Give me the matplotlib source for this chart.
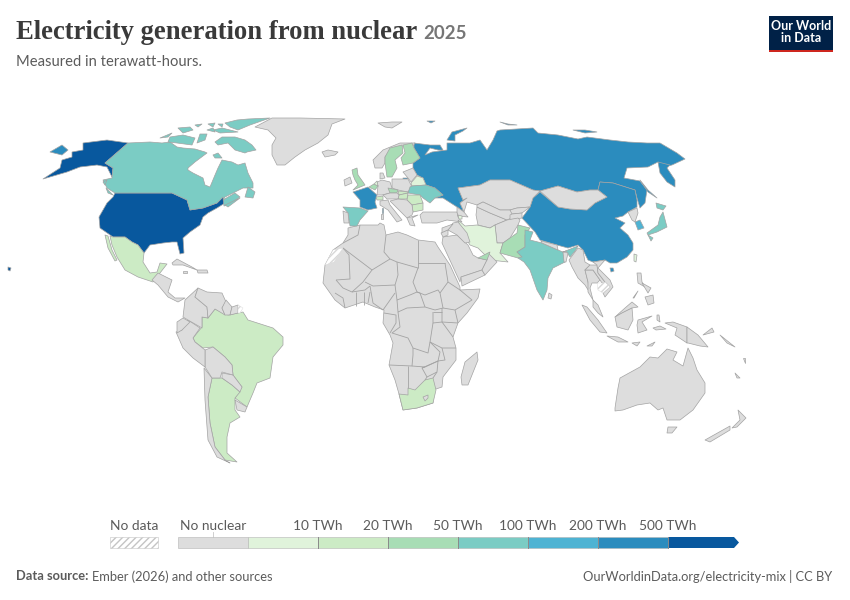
import matplotlib
matplotlib.use("Agg")
import matplotlib.pyplot as plt
from matplotlib.collections import PolyCollection, LineCollection
from matplotlib.colors import ListedColormap, BoundaryNorm
from matplotlib.patches import Polygon, Rectangle

## Legend bins
BIN_EDGES = [-1, 0.001, 10, 20, 50, 100, 200, 500, 5000]
BIN_COLORS = ["#dddddd", "#e0f3db", "#ccebc5", "#a8ddb5", "#7bccc4", "#4eb3d3", "#2b8cbe", "#08589e"]
BIN_LABELS = ["10 TWh", "20 TWh", "50 TWh", "100 TWh", "200 TWh", "500 TWh"]

## TWh by country, 0 = no nuclear
COUNTRY_TWH = {
    "Russia": 215, "China": 450, "Mongolia": 0, "USA": 800, "Canada": 85, "Greenland": 0,
    "Mexico": 11, "Brazil": 15, "Argentina": 12, "Chile": 0, "Uruguay": 0, "Paraguay": 0,
    "Bolivia": 0, "Peru": 0, "Ecuador": 0, "Colombia": 0, "Venezuela": 0, "Guyana": 0,
    "Suriname": 0, "CentralAmerica": 0, "Cuba": 0, "Hispaniola": 0, "Jamaica": 0,
    "Africa": 0, "SouthAfrica": 15, "Lesotho": 0, "Madagascar": 0,
    "Iceland": 0, "Svalbard": 0, "Norway": 0, "Sweden": 48, "Finland": 32, "Baltics": 0,
    "Belarus": 6, "Poland": 0, "Ukraine": 80, "Germany": 0, "Denmark": 0, "France": 370,
    "UK": 35, "Ireland": 0, "Spain": 55, "Portugal": 0, "Belgium": 25, "Netherlands": 3,
    "Switzerland": 18, "Italy": 0, "Sardinia": 0, "Czechia": 29, "Slovakia": 17, "Hungary": 15,
    "Austria": 0, "Romania": 11, "Bulgaria": 15, "Balkans": 0, "Greece": 0, "Turkey": 0,
    "Caucasus": 0, "Armenia": 3, "Kazakhstan": 0, "Turkmenistan": 0, "Uzbekistan": 0,
    "Kyrgyzstan": 0, "Tajikistan": 0, "Afghanistan": 0, "Iran": 6, "Pakistan": 22, "India": 55,
    "Nepal": 0, "Bangladesh": 0, "SriLanka": 0, "Myanmar": 0, "Thailand": 0, "Laos": 0,
    "Vietnam": 0, "Malaysia": 0, "Indonesia": 0, "Philippines": 0, "PNG": 0, "Australia": 0,
    "NewZealand": 0, "Pacific": 0, "NorthKorea": 0, "SouthKorea": 190, "Japan": 85,
    "Taiwan": 8, "Saudi": 0, "Yemen": 0, "Oman": 0, "UAE": 40, "Iraq": 0, "Syria": 0, "Jordan": 0,
}

## Country outlines
OUTLINES = {
    "Russia": [
        [(414,143),(430,145),(440,145),(443,150),(438,150),(430,148),(425,155),(432,152),(447,150),(447,143),(460,143),(470,143),(480,140),(487,150),(493,140),(497,131),(500,130),(533,128),(538,133),(558,135),(578,139),(587,137),(610,140),(628,142),(647,143),(660,143),(677,153),(685,159),(672,165),(663,167),(658,162),(648,167),(627,168),(624,178),(640,181),(647,190),(645,203),(640,208),(637,198),(635,190),(613,183),(600,182),(598,190),(590,190),(577,192),(558,186),(540,191),(533,190),(510,180),(490,180),(480,185),(458,188),(463,200),(467,198),(460,203),(464,212),(457,207),(443,198),(435,198),(443,195),(435,188),(426,185),(423,178),(417,175),(413,168),(413,163),(420,158),(414,148)],
        [(670,165),(667,168),(675,180),(675,187),(667,182),(660,173),(658,162)],
        [(50,152),(62,145),(68,150),(62,155)],
        [(447,140),(452,132),(467,128),(463,131),(455,135),(455,141)],
        [(573,130),(585,130),(597,132),(585,133)],
        [(500,122),(508,124),(517,125),(508,125)],
        [(427,121),(435,121),(431,123)],
        [(640,180),(648,190),(657,198),(648,192)],
        [(403,178),(408,178),(407,180),(403,180)],
    ],
    "China": [
        [(600,182),(613,183),(635,190),(637,200),(637,207),(628,212),(623,216),(615,218),(625,223),(620,228),(628,235),(633,243),(633,250),(627,257),(617,263),(610,263),(605,260),(593,262),(588,260),(583,250),(578,245),(568,248),(557,245),(540,240),(535,232),(522,218),(530,207),(533,198),(540,192),(558,207),(570,209),(587,210),(595,203),(607,197),(598,190)],
        [(610,268),(613,268),(614,271),(611,272)],
    ],
    "Mongolia": [[(540,191),(558,186),(577,192),(590,190),(598,190),(607,197),(595,203),(587,210),(570,209),(558,207)]],
    "USA": [
        [(115,193),(172,193),(187,200),(190,210),(203,208),(217,203),(223,197),(225,203),(217,208),(208,213),(203,217),(200,225),(190,232),(183,238),(184,253),(180,254),(177,242),(172,242),(163,243),(150,245),(144,253),(138,245),(132,242),(125,237),(113,237),(100,228),(99,217),(107,203),(113,197)],
        [(107,140),(128,143),(105,163),(113,168),(112,177),(107,167),(97,165),(80,167),(67,172),(43,179),(60,168),(62,160),(72,157),(72,152),(83,150),(83,143)],
        [(8,267),(11,268),(10,271),(8,270)],
    ],
    "Canada": [
        [(128,143),(150,142),(162,143),(170,142),(177,147),(183,148),(195,149),(205,152),(207,153),(195,162),(188,168),(188,170),(193,173),(203,178),(205,185),(210,187),(215,175),(218,168),(222,160),(232,162),(238,165),(245,163),(248,173),(253,183),(253,188),(243,188),(233,193),(225,197),(223,200),(235,193),(240,197),(228,205),(224,206),(223,197),(217,203),(203,208),(190,210),(187,200),(172,193),(115,193),(107,188),(103,180),(112,178),(113,168),(105,163)],
        [(215,142),(222,137),(235,137),(245,140),(252,145),(256,150),(247,152),(245,153),(235,150),(228,143),(218,145)],
        [(170,137),(183,135),(195,138),(192,145),(177,143),(168,142)],
        [(160,138),(172,133),(168,137)],
        [(225,123),(237,120),(248,119),(270,118),(250,125),(238,130),(230,127)],
        [(213,130),(222,128),(238,132),(220,133)],
        [(207,130),(213,128),(215,132)],
        [(208,124),(215,123),(213,127)],
        [(218,124),(223,124),(222,127)],
        [(178,128),(190,127),(193,130),(183,133)],
        [(195,125),(202,124),(198,127)],
        [(197,143),(200,134),(207,134),(205,140)],
        [(213,155),(218,153),(222,158),(215,158)],
        [(248,187),(255,192),(253,198),(245,197)],
        [(225,205),(240,198),(228,207)],
        [(106,188),(113,195),(108,193)],
        [(103,182),(107,180),(105,185)],
    ],
    "Greenland": [[(255,127),(272,118),(300,118),(345,119),(332,124),(328,135),(318,143),(305,150),(295,157),(285,165),(277,165),(272,155),(272,145),(276,138),(268,130)]],
    "Mexico": [
        [(110,236),(113,237),(125,237),(132,242),(138,245),(144,253),(143,262),(150,273),(157,272),(160,263),(167,264),(160,273),(153,282),(138,277),(125,270),(117,257),(112,245)],
        [(105,235),(108,236),(112,250),(117,260),(115,261),(108,248)],
    ],
    "Brazil": [[(202,317),(208,318),(215,309),(228,315),(243,312),(248,320),(273,328),(283,337),(283,345),(273,357),(270,378),(257,383),(253,393),(247,407),(235,398),(242,387),(233,375),(232,365),(225,357),(213,347),(203,348),(195,342),(193,338),(202,327)]],
    "Argentina": [[(212,378),(222,378),(232,385),(240,392),(235,398),(235,410),(240,417),(230,423),(227,437),(227,453),(237,462),(225,460),(215,447),(210,423),(208,397)]],
    "Chile": [[(204,368),(212,378),(208,397),(210,423),(215,447),(225,460),(230,463),(217,457),(208,440),(205,400)]],
    "Uruguay": [[(235,400),(247,407),(245,412),(237,410)]],
    "Paraguay": [[(222,373),(233,375),(242,387),(240,392),(232,385),(222,378)]],
    "Bolivia": [[(205,350),(213,347),(225,357),(232,365),(233,375),(222,372),(220,378),(212,378),(205,367)]],
    "Peru": [[(176,332),(182,330),(188,320),(200,328),(193,338),(195,342),(205,350),(205,367),(193,358),(183,348)]],
    "Ecuador": [[(177,322),(183,318),(190,322),(182,330),(177,333)]],
    "Colombia": [[(183,317),(185,300),(198,288),(195,297),(207,307),(208,318),(202,317),(202,328),(188,320)]],
    "Venezuela": [[(198,288),(207,292),(222,293),(226,302),(222,308),(225,315),(215,309),(208,318),(207,307),(195,297)]],
    "Guyana": [[(226,300),(232,307),(230,315),(225,315),(222,308)]],
    "Suriname": [[(232,307),(238,305),(238,313),(230,315)]],
    "CentralAmerica": [[(152,280),(158,273),(172,280),(168,292),(175,298),(185,298),(178,302),(168,297),(158,285)]],
    "Cuba": [[(172,263),(177,259),(192,267),(197,270),(183,265),(173,265)]],
    "Hispaniola": [[(197,270),(207,270),(208,273),(198,273)]],
    "Jamaica": [[(183,271),(187,271),(187,273),(183,273)]],
    "Africa": [[(348,228),(360,225),(378,225),(380,223),(384,225),(386,235),(398,232),(407,235),(418,240),(435,242),(438,247),(450,265),(460,287),(460,290),(480,289),(478,298),(467,313),(458,323),(453,337),(456,348),(456,360),(443,377),(442,387),(433,390),(433,403),(417,408),(403,410),(399,394),(395,380),(389,365),(393,343),(390,335),(383,323),(384,310),(375,307),(363,302),(345,308),(335,300),(323,283),(325,265),(333,250),(343,243),(348,235)]],
    "SouthAfrica": [[(399,394),(408,395),(408,388),(415,390),(425,380),(433,378),(436,390),(433,403),(417,408),(403,410)]],
    "Lesotho": [[(423,397),(428,395),(428,398),(425,401)]],
    "Madagascar": [[(477,352),(478,360),(468,385),(462,385),(461,377),(465,362)]],
    "Iceland": [[(322,152),(328,150),(338,152),(335,155),(325,157)]],
    "Svalbard": [[(378,123),(392,122),(402,122),(392,128),(385,127)]],
    "Norway": [[(373,160),(383,150),(400,143),(415,143),(413,146),(403,146),(392,149),(385,157),(385,163),(382,168),(375,168)]],
    "Sweden": [[(390,148),(402,145),(403,153),(395,160),(397,168),(392,177),(387,177),(385,163),(385,157)]],
    "Finland": [[(403,145),(412,143),(414,148),(420,158),(413,163),(403,165),(401,158),(405,153)]],
    "Baltics": [[(403,172),(413,168),(417,175),(411,182),(408,178)]],
    "Belarus": [[(411,183),(417,176),(423,178),(426,185),(412,186)]],
    "Poland": [[(392,179),(408,179),(412,187),(408,192),(398,190),(392,188)]],
    "Ukraine": [[(410,187),(412,186),(426,185),(435,188),(443,195),(435,198),(430,203),(423,198),(420,195),(408,193)]],
    "Germany": [[(377,182),(382,180),(390,182),(392,188),(390,193),(382,195),(377,195),(378,186)]],
    "Denmark": [[(380,173),(383,173),(385,178),(380,179)]],
    "France": [
        [(353,192),(368,187),(377,195),(375,202),(377,208),(368,210),(360,207),(360,200)],
        [(382,208),(383,208),(383,213),(382,213)],
    ],
    "UK": [[(352,170),(357,168),(358,175),(363,182),(365,185),(353,190),(358,185),(355,180),(353,175)]],
    "Ireland": [[(344,180),(350,177),(352,183),(345,186)]],
    "Spain": [[(343,207),(360,208),(368,211),(360,220),(357,226),(350,226),(348,213)]],
    "Portugal": [[(343,211),(348,213),(349,223),(344,223)]],
    "Belgium": [[(369,187),(374,184),(378,186),(375,190)]],
    "Netherlands": [[(374,184),(377,181),(378,186)]],
    "Switzerland": [[(376,197),(383,196),(383,200),(377,200)]],
    "Italy": [[(380,201),(388,200),(390,205),(402,220),(397,222),(388,210),(380,205)]],
    "Sardinia": [[(381,214),(383,214),(383,219),(381,219)]],
    "Czechia": [[(388,188),(398,190),(397,193),(390,193)]],
    "Slovakia": [[(398,191),(408,192),(408,193),(399,195)]],
    "Hungary": [[(399,195),(408,193),(407,199),(398,199)]],
    "Austria": [[(383,195),(390,193),(397,193),(399,195),(398,199),(387,199)]],
    "Romania": [[(408,195),(420,195),(423,203),(412,205),(407,200)]],
    "Bulgaria": [[(412,205),(423,203),(423,210),(413,212)]],
    "Balkans": [[(390,201),(398,199),(407,200),(412,205),(413,212),(412,215),(407,218),(397,208)]],
    "Greece": [[(407,218),(418,215),(412,218),(415,226),(410,225)]],
    "Turkey": [[(420,215),(423,212),(440,212),(457,212),(458,217),(462,222),(447,220),(437,223),(422,223)]],
    "Caucasus": [[(457,207),(464,212),(468,217),(458,216),(457,212)]],
    "Armenia": [[(458,215),(462,216),(462,219),(459,219)]],
    "Kazakhstan": [[(458,188),(480,185),(490,180),(510,180),(533,190),(540,191),(533,198),(530,207),(517,208),(510,210),(500,210),(483,202),(477,205),(467,202),(464,212),(460,203),(467,198),(463,200)]],
    "Turkmenistan": [[(477,207),(490,213),(507,220),(495,225),(490,228),(478,225),(476,215)]],
    "Uzbekistan": [[(477,205),(483,202),(500,210),(510,210),(518,215),(507,220),(490,213),(477,207)]],
    "Kyrgyzstan": [[(510,210),(517,208),(530,207),(522,213),(512,214)]],
    "Tajikistan": [[(512,214),(522,213),(522,218),(510,220),(510,215)]],
    "Afghanistan": [[(495,225),(507,220),(518,218),(520,220),(518,225),(510,238),(503,243),(497,243)]],
    "Iran": [[(458,220),(465,226),(477,225),(490,228),(495,225),(497,243),(503,243),(500,253),(508,262),(490,260),(478,248),(470,245),(462,232)]],
    "Pakistan": [[(518,225),(530,228),(525,235),(525,247),(517,252),(522,257),(518,258),(500,253),(503,243),(510,238),(517,233)]],
    "India": [[(525,230),(533,232),(530,240),(542,243),(558,250),(563,252),(578,246),(575,251),(570,257),(566,251),(563,252),(565,262),(553,268),(548,278),(547,290),(543,300),(537,290),(530,270),(524,262),(518,258),(522,257),(517,252),(525,247),(525,235)]],
    "Nepal": [[(541,241),(557,245),(558,250),(542,243)]],
    "Bangladesh": [[(563,252),(568,253),(566,262),(564,262)]],
    "SriLanka": [[(549,293),(552,295),(551,299),(548,298)]],
    "Myanmar": [[(569,260),(578,248),(583,250),(585,262),(590,265),(585,270),(588,282),(590,293),(585,285),(578,278),(572,267)]],
    "Thailand": [[(585,270),(593,270),(600,280),(597,283),(592,283),(590,288),(593,300),(588,292),(588,282)]],
    "Laos": [[(590,265),(597,265),(598,273),(605,282),(602,283),(600,280),(593,270),(585,270)]],
    "Vietnam": [[(593,262),(605,260),(598,268),(610,280),(613,287),(605,297),(603,293),(610,287),(605,282),(598,273),(597,265)]],
    "Malaysia": [
        [(593,300),(598,305),(603,317),(598,313),(593,307)],
        [(615,317),(625,308),(632,302),(638,307),(632,308),(622,313)],
    ],
    "Indonesia": [
        [(582,305),(587,307),(598,320),(607,333),(600,332),(590,320)],
        [(607,336),(618,337),(628,342),(618,342)],
        [(615,317),(622,313),(632,308),(633,320),(628,330),(617,327)],
        [(638,320),(652,316),(642,322),(647,330),(638,333),(637,325)],
        [(665,323),(673,322),(687,327),(687,343),(675,335),(677,328)],
        [(647,346),(655,342),(652,346)],
        [(632,343),(640,342),(637,346)],
        [(653,328),(660,326),(666,329),(656,330)],
        [(657,315),(659,315),(660,322),(657,320)],
    ],
    "Philippines": [
        [(637,273),(641,273),(642,282),(645,287),(638,283)],
        [(645,297),(653,295),(654,303),(648,305)],
        [(642,283),(651,288),(648,293)],
        [(633,298),(638,291),(634,298)],
    ],
    "PNG": [[(687,327),(698,335),(708,347),(700,346),(688,343),(687,343)]],
    "Australia": [
        [(615,408),(618,388),(620,378),(640,367),(650,357),(658,358),(667,349),(677,352),(673,360),(683,366),(688,348),(693,358),(697,370),(705,383),(705,393),(693,410),(680,420),(667,420),(663,408),(658,410),(650,403),(637,405),(623,410),(615,411)],
        [(668,427),(677,427),(672,433),(667,433)],
    ],
    "NewZealand": [
        [(738,410),(746,418),(737,427),(732,428),(740,420)],
        [(730,426),(730,430),(710,442),(705,440)],
    ],
    "Pacific": [
        [(720,335),(735,347),(727,343)],
        [(712,328),(714,332),(703,335)],
        [(735,373),(740,378),(737,378)],
        [(743,358),(745,358),(745,363)],
    ],
    "NorthKorea": [[(637,208),(628,212),(632,220),(635,222),(638,213)]],
    "SouthKorea": [[(635,222),(640,220),(644,228),(638,230)]],
    "Japan": [
        [(663,212),(667,227),(657,232),(648,235),(647,233),(658,225),(660,217)],
        [(656,203),(666,206),(663,210),(657,208)],
        [(648,235),(653,238),(651,241)],
    ],
    "Taiwan": [[(634,254),(637,255),(636,262),(634,261)]],
    "Saudi": [[(442,243),(443,237),(457,235),(468,245),(473,255),(478,258),(487,260),(482,270),(461,277),(460,282)]],
    "Yemen": [[(461,277),(482,270),(485,275),(462,286)]],
    "Oman": [[(482,270),(487,260),(488,253),(497,262),(485,275)]],
    "UAE": [[(478,258),(490,252),(487,260)]],
    "Iraq": [[(453,223),(458,222),(467,233),(470,242),(465,243),(457,235),(448,230)]],
    "Syria": [[(442,228),(453,224),(448,230),(442,233)]],
    "Jordan": [[(441,233),(448,230),(448,235),(443,237)]],
}

## Outlines for territories without data
NO_DATA_OUTLINES = [
    [(325,265),(333,250),(343,248),(334,262)],
    [(238,305),(243,308),(240,313),(238,313)],
    [(597,283),(602,283),(605,282),(610,287),(603,293),(598,290)],
]

## Inner borders of Africa
AFRICA_BORDERS = [
    [(360,225),(358,235),(343,243)],
    [(343,248),(349,255),(350,279),(336,280)],
    [(343,248),(372,270),(363,282)],
    [(372,270),(390,259),(397,262)],
    [(386,235),(384,252),(390,259)],
    [(418,240),(418,268)],
    [(397,262),(418,268)],
    [(418,263),(445,263)],
    [(397,262),(398,275),(395,285)],
    [(418,268),(413,282),(417,292)],
    [(395,285),(397,300),(410,295),(417,292)],
    [(395,285),(373,286),(365,282)],
    [(370,286),(373,303),(383,310),(395,293)],
    [(336,280),(343,288),(352,292),(363,282)],
    [(352,292),(365,290),(370,286)],
    [(356,292),(356,306)],
    [(364,292),(364,305)],
    [(370,292),(368,303)],
    [(335,293),(343,298),(345,308)],
    [(397,300),(398,312),(407,308),(425,307),(435,310)],
    [(417,292),(425,295),(438,290),(440,293)],
    [(417,292),(420,293),(425,307)],
    [(440,293),(443,308),(435,310)],
    [(448,282),(440,293)],
    [(443,308),(455,310),(472,300),(460,290)],
    [(445,263),(448,282),(460,290)],
    [(442,308),(442,322),(458,323)],
    [(455,310),(458,323)],
    [(433,312),(442,312)],
    [(433,312),(433,323),(442,322)],
    [(398,312),(400,327),(392,333),(408,338),(413,348),(428,353),(430,342),(433,323)],
    [(384,313),(396,315),(396,323),(390,333)],
    [(389,365),(412,366),(413,355),(413,348)],
    [(412,366),(425,367),(438,361),(440,352),(430,342)],
    [(442,322),(453,337)],
    [(456,348),(442,348),(430,342)],
    [(408,366),(408,388)],
    [(425,380),(427,377),(422,368),(425,367)],
    [(422,368),(438,361),(437,372),(427,377)],
    [(442,348),(445,360),(438,361)],
    [(437,372),(433,378)],
]

TITLE = "Electricity generation from nuclear"
TITLE_YEAR = "2025"
SUBTITLE = "Measured in terawatt-hours."
SOURCE_BOLD = "Data source:"
SOURCE_REST = "Ember (2026) and other sources"
FOOTER_RIGHT = "OurWorldinData.org/electricity-mix | CC BY"

GREY_TEXT = "#5b5b5b"
BORDER = "#a3a3a3"

plt.rcParams["font.family"] = ["Lato", "DejaVu Sans"]

fig = plt.figure(figsize=(8.5, 6), dpi=100)
ax = fig.add_axes([0, 0, 1, 1])
ax.set_xlim(0, 850)
ax.set_ylim(600, 0)
ax.axis("off")

cmap = ListedColormap(BIN_COLORS)
norm = BoundaryNorm(BIN_EDGES, cmap.N)

# one ring per polygon, each ring carries its country's value
rings = []
values = []
for name, twh in COUNTRY_TWH.items():
    for ring in OUTLINES[name]:
        rings.append(ring)
        values.append(twh)

countries = PolyCollection(rings, array=values, cmap=cmap, norm=norm, edgecolors=BORDER, linewidths=0.5, zorder=2)
ax.add_collection(countries)
ax.add_collection(LineCollection(AFRICA_BORDERS, colors=BORDER, linewidths=0.6, zorder=3))

for ring in NO_DATA_OUTLINES:
    ax.add_patch(Polygon(ring, facecolor="white", edgecolor="#d8d8d8", hatch="/////", linewidth=0.3, zorder=3))

# legend
bar_x = 178
bar_y = 537
bar_h = 11
bar_w = 70
for i, color in enumerate(BIN_COLORS):
    x0 = bar_x + i * bar_w
    if i == len(BIN_COLORS) - 1:
        pts = [(x0, bar_y), (x0 + bar_w - 4, bar_y), (x0 + bar_w + 1, bar_y + bar_h / 2), (x0 + bar_w - 4, bar_y + bar_h), (x0, bar_y + bar_h)]
        ax.add_patch(Polygon(pts, facecolor=color, edgecolor="none", zorder=3))
    else:
        ax.add_patch(Rectangle((x0, bar_y), bar_w, bar_h, facecolor=color, edgecolor="#b5b5b5", linewidth=0.4, zorder=3))
for i, label in enumerate(BIN_LABELS):
    x = bar_x + (i + 2) * bar_w
    ax.plot([x, x], [bar_y, bar_y + bar_h], color="#8a8a8a", lw=0.7, zorder=4)
    ax.text(x, 525.5, label, ha="center", va="center", fontsize=9.9, color=GREY_TEXT)
ax.plot([213, 213], [532, bar_y], color="#c8c8c8", lw=0.6)
ax.text(213, 525.5, "No nuclear", ha="center", va="center", fontsize=9.9, color=GREY_TEXT)
ax.add_patch(Rectangle((110, bar_y), 48, bar_h, facecolor="white", edgecolor="#c4c4c4", hatch="/////", linewidth=0.4))
ax.text(134, 525.5, "No data", ha="center", va="center", fontsize=9.9, color=GREY_TEXT)

# header
ax.text(16, 32.5, TITLE, ha="left", va="center", fontsize=19.15, family="Liberation Serif", weight="bold", color="#3a3a3a")
ax.text(423, 33.5, TITLE_YEAR, ha="left", va="center", fontsize=13.4, weight="bold", color="#767676")
ax.text(16, 61.5, SUBTITLE, ha="left", va="center", fontsize=10.65, color=GREY_TEXT)

# logo
ax.add_patch(Rectangle((769, 16), 64, 36, facecolor="#002147", edgecolor="none"))
ax.add_patch(Rectangle((769, 49.5), 64, 2.5, facecolor="#ce261e", edgecolor="none"))
ax.text(801, 32.5, "Our World\nin Data", ha="center", va="center", fontsize=9, weight="bold", color="white", linespacing=1.0)

# footer
ax.text(16, 576.5, SOURCE_BOLD, ha="left", va="center", fontsize=9.25, weight="bold", color=GREY_TEXT)
ax.text(92, 576.5, SOURCE_REST, ha="left", va="center", fontsize=9.25, color=GREY_TEXT)
ax.text(832, 576.5, FOOTER_RIGHT, ha="right", va="center", fontsize=9.25, color=GREY_TEXT)

fig.savefig("out.png", dpi=100)
